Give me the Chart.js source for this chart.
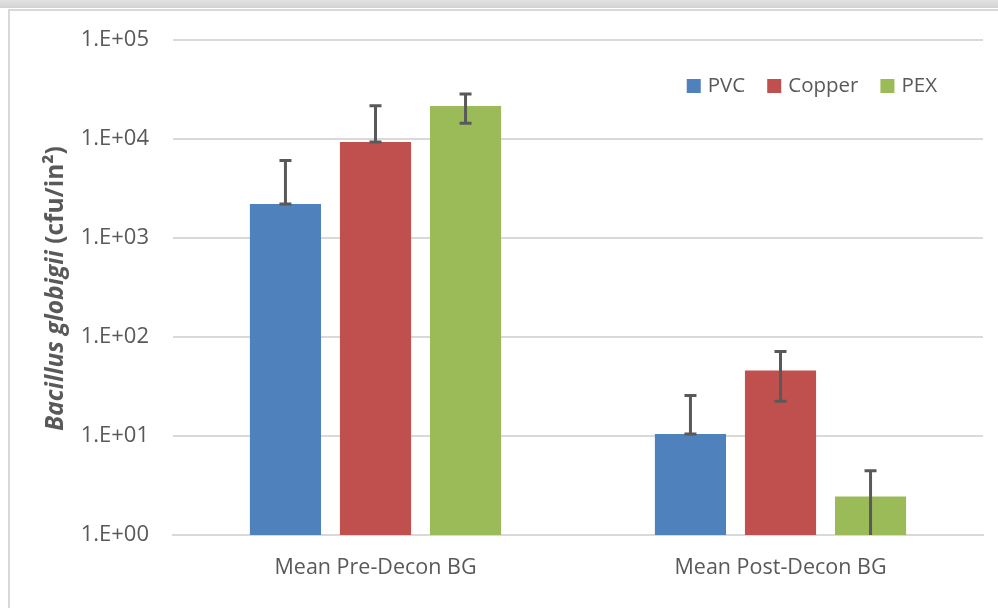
<!DOCTYPE html>
<html>
<head>
<meta charset="utf-8">
<script src="https://cdn.jsdelivr.net/npm/chart.js@4.4.0/dist/chart.umd.min.js"></script>
<style>
  html, body { margin: 0; padding: 0; background: #fff; }
  body { width: 998px; height: 608px; position: relative; overflow: hidden; }
  #band { position: absolute; left: 0; top: 0; width: 998px; height: 8px; background: linear-gradient(#e2e2e2, #d2d2d2); }
  #frame { position: absolute; left: 8px; top: 9px; width: 1000px; height: 620px; border-left: 2px solid #d9d9d9; border-top: 2px solid #d9d9d9; }
  #wrap { position: absolute; left: 0; top: 0; width: 998px; height: 608px; }
</style>
</head>
<body>
<div id="band"></div>
<div id="frame"></div>
<div id="wrap"><canvas id="barChart" width="998" height="608"></canvas></div>
<script>
const categories = ['Mean Pre-Decon BG', 'Mean Post-Decon BG'];
const seriesNames = ['PVC', 'Copper', 'PEX'];
const colors = ['#4f81bd', '#c0504d', '#9bbb59'];

// medias (cfu/in2)
const pvc = [2200, 10.5];
const copper = [9340, 45.9];
const pex = [21600, 2.45];

// limites das barras de erro
const pvcHigh = [6050, 25.7];
const pvcLow = [2200, 10.5];
const copperHigh = [21700, 71.3];
const copperLow = [9340, 22.5];
const pexHigh = [28500, 4.46];
const pexLow = [14400, 0.5];

const yTicks = [1, 10, 100, 1000, 10000, 100000];

const errHigh = [pvcHigh, copperHigh, pexHigh];
const errLow = [pvcLow, copperLow, pexLow];

const FONT = "'Open Sans', sans-serif";
const TEXT = '#595959';

const errorBarsPlugin = {
  id: 'errorBars',
  afterDatasetsDraw(chart) {
    const ctx = chart.ctx;
    const y = chart.scales.y;
    const area = chart.chartArea;
    ctx.save();
    ctx.beginPath();
    ctx.rect(area.left, area.top - 5, area.right - area.left, area.bottom - area.top + 5);
    ctx.clip();
    ctx.strokeStyle = '#595959';
    ctx.lineWidth = 3;
    chart.data.datasets.forEach((ds, i) => {
      const meta = chart.getDatasetMeta(i);
      meta.data.forEach((bar, j) => {
        const yh = y.getPixelForValue(errHigh[i][j]);
        const yl = y.getPixelForValue(errLow[i][j]);
        ctx.beginPath();
        ctx.moveTo(bar.x, yh);
        ctx.lineTo(bar.x, yl);
        ctx.moveTo(bar.x - 6, yh);
        ctx.lineTo(bar.x + 6, yh);
        ctx.moveTo(bar.x - 6, yl);
        ctx.lineTo(bar.x + 6, yl);
        ctx.stroke();
      });
    });
    ctx.restore();
  }
};

// legenda dentro da area do grafico, canto superior direito
const insideLegendPlugin = {
  id: 'insideLegend',
  afterDraw(chart) {
    const ctx = chart.ctx;
    const area = chart.chartArea;
    ctx.save();
    ctx.font = '20.5px ' + FONT;
    ctx.textBaseline = 'middle';
    const box = 14, gap = 7, spacing = 22;
    const widths = seriesNames.map(n => ctx.measureText(n).width);
    let total = 0;
    widths.forEach((w, i) => { total += box + gap + w + (i < widths.length - 1 ? spacing : 0); });
    let x = area.right - 46 - total;
    const cy = area.top + 46;
    seriesNames.forEach((name, i) => {
      ctx.fillStyle = colors[i];
      ctx.fillRect(x, cy - box / 2, box, box);
      ctx.fillStyle = TEXT;
      ctx.fillText(name, x + box + gap, cy);
      x += box + gap + widths[i] + spacing;
    });
    ctx.restore();
  }
};

// titulo do eixo Y com partes em italico
const yTitlePlugin = {
  id: 'yTitle',
  afterDraw(chart) {
    const ctx = chart.ctx;
    const area = chart.chartArea;
    const parts = [
      { text: 'Bacillus globigii', font: 'italic bold 24.5px ' + FONT },
      { text: ' (cfu/in²)', font: 'bold 24.5px ' + FONT }
    ];
    ctx.save();
    ctx.translate(56, (area.top + area.bottom) / 2 + 1);
    ctx.rotate(-Math.PI / 2);
    ctx.textBaseline = 'middle';
    ctx.fillStyle = TEXT;
    let total = 0;
    parts.forEach(p => { ctx.font = p.font; p.w = ctx.measureText(p.text).width; total += p.w; });
    let x = -total / 2;
    parts.forEach(p => {
      ctx.font = p.font;
      ctx.fillText(p.text, x, 0);
      x += p.w;
    });
    ctx.restore();
  }
};

const ctx = document.getElementById('barChart').getContext('2d');
new Chart(ctx, {
  type: 'bar',
  data: {
    labels: categories,
    datasets: [
      { label: seriesNames[0], data: pvc, backgroundColor: colors[0] },
      { label: seriesNames[1], data: copper, backgroundColor: colors[1] },
      { label: seriesNames[2], data: pex, backgroundColor: colors[2] }
    ]
  },
  options: {
    responsive: false,
    animation: false,
    layout: { padding: { top: 40, right: 15, left: 0, bottom: 0 } },
    datasets: {
      bar: { categoryPercentage: 0.667, barPercentage: 0.79 }
    },
    plugins: {
      legend: { display: false },
      tooltip: { enabled: false }
    },
    scales: {
      x: {
        grid: { display: false, drawTicks: false },
        border: { display: true, color: '#d9d9d9', width: 2 },
        ticks: { color: TEXT, font: { family: FONT, size: 21.5 }, padding: 20 },
        afterFit(s) { s.height = 73; }
      },
      y: {
        type: 'logarithmic',
        min: 1,
        max: 100000,
        grid: { color: '#d9d9d9', lineWidth: 2, drawTicks: false },
        border: { display: false },
        afterBuildTicks(s) { s.ticks = yTicks.map(v => ({ value: v, major: false })); },
        ticks: {
          color: TEXT,
          font: { family: FONT, size: 22 },
          padding: 24,
          callback: v => '1.E+' + String(Math.round(Math.log10(v))).padStart(2, '0')
        },
        afterFit(s) { s.width = 173; }
      }
    }
  },
  plugins: [errorBarsPlugin, insideLegendPlugin, yTitlePlugin]
});
</script>
</body>
</html>
